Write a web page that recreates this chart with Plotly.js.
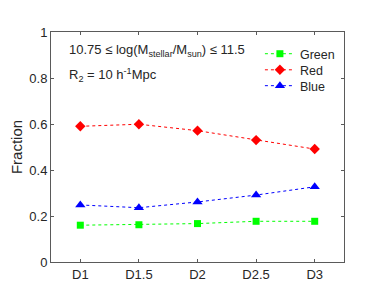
<!DOCTYPE html>
<html>
<head>
<meta charset="utf-8">
<script src="https://cdn.plot.ly/plotly-3.0.1.min.js"></script>
<style>html,body{margin:0;padding:0;background:#fff;}#chart{width:382px;height:305px;}</style>
</head>
<body>
<div id="chart"></div>
<script>
const categories = ["D1", "D1.5", "D2", "D2.5", "D3"];
const greenValues = [0.160, 0.162, 0.167, 0.177, 0.177];
const redValues = [0.590, 0.599, 0.571, 0.530, 0.491];
const blueValues = [0.248, 0.236, 0.261, 0.291, 0.327];
const yTicks = [0, 0.2, 0.4, 0.6, 0.8, 1];
const yTickLabels = ["0", "0.2", "0.4", "0.6", "0.8", "1"];

const font = "Liberation Sans, Arial, sans-serif";
const axisColor = "#5a5a5a";
const textColor = "#262626";

function series(name, values, color, symbol, size, legendId) {
  return {
    x: categories, y: values, name: name, type: "scatter", mode: "lines+markers",
    legend: legendId,
    line: {color: color, width: 1, dash: "dot"},
    marker: {color: color, symbol: symbol, size: size}
  };
}

const data = [
  series("Green", greenValues, "#00ff00", "square", 7, "legend"),
  series("Red", redValues, "#ff0000", "diamond", 8, "legend2"),
  series("Blue", blueValues, "#0000ff", "triangle-up", 9, "legend3")
];

function legendAt(y) {
  return {x: 0.713, y: y, xanchor: "left", yanchor: "middle", bgcolor: "rgba(0,0,0,0)",
          font: {family: font, size: 12.5, color: textColor}, itemwidth: 30};
}

const layout = {
  width: 382, height: 305,
  margin: {l: 51, r: 38, t: 32, b: 43},
  paper_bgcolor: "#fff", plot_bgcolor: "#fff",
  font: {family: font, size: 13, color: textColor},
  showlegend: true,
  legend: legendAt(0.904),
  legend2: legendAt(0.834),
  legend3: legendAt(0.765),
  xaxis: {
    type: "category", range: [-0.5, 4.5],
    showline: true, linecolor: axisColor, linewidth: 1, mirror: "ticks",
    ticks: "inside", ticklen: 3, tickcolor: axisColor, showgrid: false, zeroline: false,
    tickfont: {family: font, size: 13, color: textColor}
  },
  yaxis: {
    range: [0, 1], tickvals: yTicks, ticktext: yTickLabels,
    showline: true, linecolor: axisColor, linewidth: 1, mirror: "ticks",
    ticks: "inside", ticklen: 3, tickcolor: axisColor, showgrid: false, zeroline: false,
    tickfont: {family: font, size: 13, color: textColor},
    title: {text: "Fraction", font: {family: font, size: 15, color: textColor}, standoff: 3}
  },
  annotations: [
    {xref: "paper", yref: "paper", x: 0.053, y: 0.918, xanchor: "left", yanchor: "middle", showarrow: false,
     text: "10.75 ≤ log(M<sub>stellar</sub>/M<sub>sun</sub>) ≤ 11.5", font: {family: font, size: 13, color: textColor}},
    {xref: "paper", yref: "paper", x: 0.053, y: 0.815, xanchor: "left", yanchor: "middle", showarrow: false,
     text: "R<sub>2</sub> = 10 h<sup>-1</sup>Mpc", font: {family: font, size: 13, color: textColor}}
  ]
};

Plotly.newPlot("chart", data, layout, {displayModeBar: false, staticPlot: true});
</script>
</body>
</html>
